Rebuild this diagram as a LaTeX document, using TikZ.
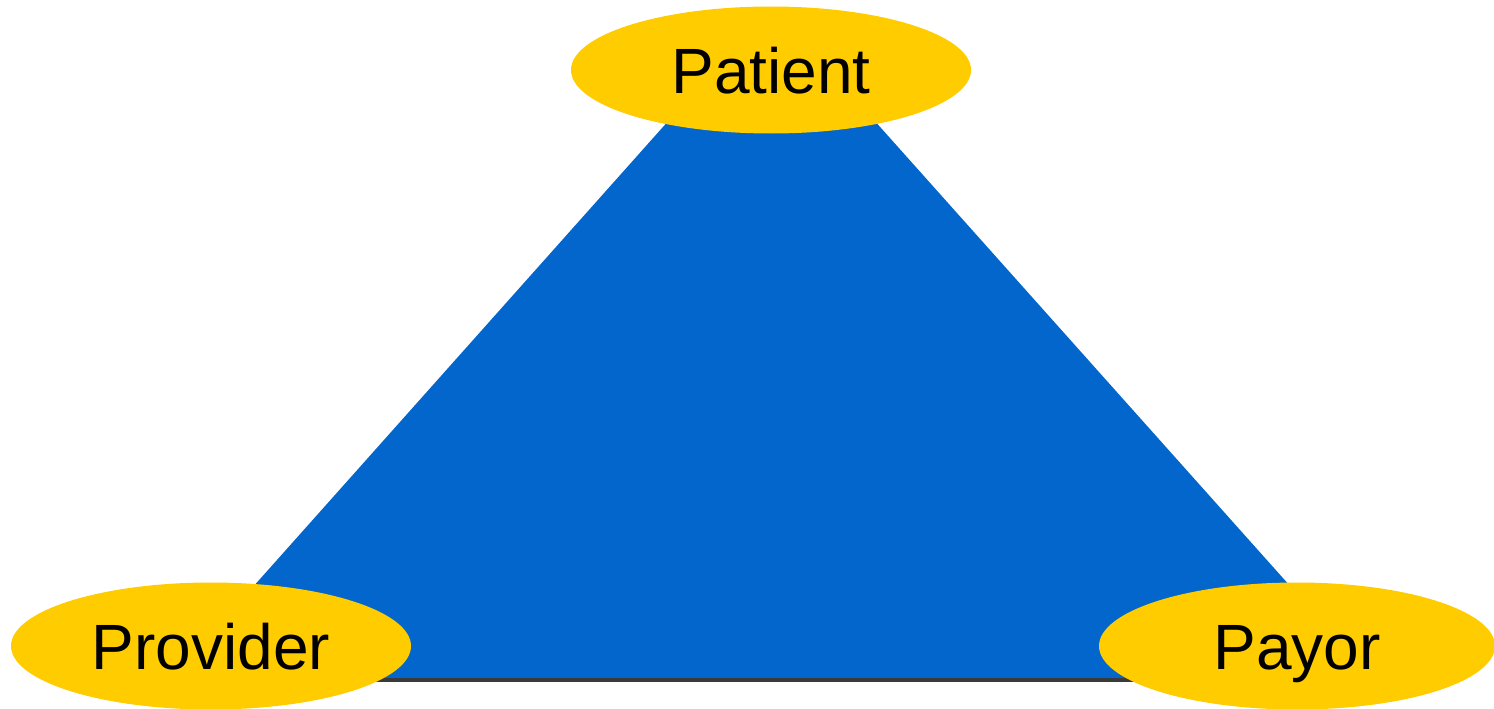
\documentclass[tikz,border=0pt]{standalone}
\usepackage{fontspec}
\setmainfont{Liberation Sans}
\usetikzlibrary{shapes.geometric}
\definecolor{tblue}{HTML}{0366CC}
\definecolor{tyellow}{HTML}{FFCC00}
\definecolor{tline}{HTML}{3A3A3A}
\begin{document}
\begin{tikzpicture}[x=1pt,y=-1pt,
  party/.style={ellipse,fill=tyellow,draw=none,minimum width=400pt,minimum height=127pt,inner sep=0pt,
    text height=47pt,text depth=0pt,font=\fontsize{64}{64}\selectfont,text=black}]
\useasboundingbox (0,0) rectangle (1494,709);
\coordinate (tl) at (687,100);
\coordinate (tr) at (856,100);
\coordinate (bl) at (170,680);
\coordinate (br) at (1374,680);
\fill[tblue] (tl) -- (tr) -- (br) -- (bl) -- cycle;
\draw[tline,line width=4pt] (bl) -- (br);
\node[party] (patient) at (771,70) {Patient};
\node[party] (provider) at (211,646) {Provider};
\node[party,minimum width=396pt] (payor) at (1297,646) {Payor};
\end{tikzpicture}
\end{document}
